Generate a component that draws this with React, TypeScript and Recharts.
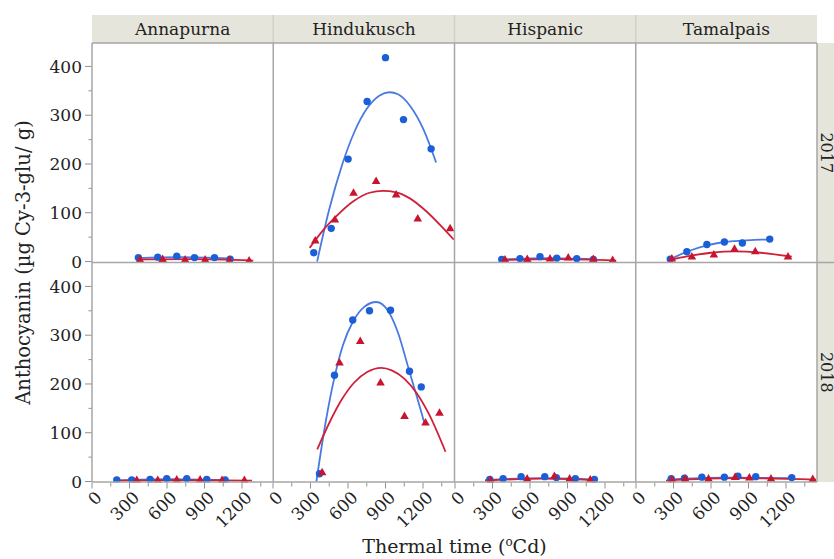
import { ComposedChart, Scatter, Line, XAxis, YAxis } from 'recharts';

const cultivars = ['Annapurna', 'Hindukusch', 'Hispanic', 'Tamalpais'];
const years = ['2017', '2018'];
const xTicks = [0, 150, 300, 450, 600, 750, 900, 1050, 1200, 1350];
const yTicks = [0, 50, 100, 150, 200, 250, 300, 350, 400];

// 2017
const annapurna2017Blue = [{ x: 371, y: 8 }, { x: 526, y: 9 }, { x: 678, y: 11 }, { x: 820, y: 8 }, { x: 980, y: 8 }, { x: 1105, y: 5 }];
const annapurna2017Red = [{ x: 384, y: 4 }, { x: 565, y: 5 }, { x: 745, y: 4 }, { x: 905, y: 4 }, { x: 1100, y: 3 }, { x: 1257, y: 2 }];
const annapurna2017BlueFit = [{ x: 360, y: 7 }, { x: 700, y: 9 }, { x: 1110, y: 6 }];
const annapurna2017RedFit = [{ x: 360, y: 4 }, { x: 800, y: 5 }, { x: 1290, y: 2 }];

const hindukusch2017Blue = [{ x: 326, y: 18 }, { x: 466, y: 68 }, { x: 601, y: 210 }, { x: 753, y: 328 }, { x: 900, y: 418 }, { x: 1044, y: 291 }, { x: 1265, y: 231 }];
const hindukusch2017Red = [{ x: 338, y: 43 }, { x: 495, y: 86 }, { x: 644, y: 141 }, { x: 825, y: 165 }, { x: 985, y: 137 }, { x: 1158, y: 88 }, { x: 1417, y: 68 }];
const hindukusch2017BlueFit = [{ x: 353, y: 0 }, { x: 450, y: 107 }, { x: 550, y: 196 }, { x: 650, y: 265 }, { x: 750, y: 313 }, { x: 850, y: 340 }, { x: 932, y: 347 }, { x: 1000, y: 343 }, { x: 1100, y: 318 }, { x: 1200, y: 273 }, { x: 1305, y: 203 }];
const hindukusch2017RedFit = [{ x: 293, y: 28 }, { x: 400, y: 64 }, { x: 507, y: 93 }, { x: 640, y: 123 }, { x: 773, y: 141 }, { x: 879, y: 145 }, { x: 986, y: 142 }, { x: 1092, y: 130 }, { x: 1226, y: 103 }, { x: 1359, y: 69 }, { x: 1446, y: 45 }];

const hispanic2017Blue = [{ x: 374, y: 4 }, { x: 520, y: 6 }, { x: 680, y: 10 }, { x: 814, y: 7 }, { x: 974, y: 6 }, { x: 1107, y: 4 }];
const hispanic2017Red = [{ x: 400, y: 4 }, { x: 578, y: 5 }, { x: 760, y: 6 }, { x: 906, y: 8 }, { x: 1106, y: 5 }, { x: 1261, y: 3 }];
const hispanic2017BlueFit = [{ x: 370, y: 4 }, { x: 740, y: 7 }, { x: 1110, y: 5 }];
const hispanic2017RedFit = [{ x: 370, y: 3 }, { x: 800, y: 5 }, { x: 1290, y: 2 }];

const tamalpais2017Blue = [{ x: 274, y: 5 }, { x: 407, y: 20 }, { x: 567, y: 35 }, { x: 707, y: 40 }, { x: 851, y: 38 }, { x: 1070, y: 46 }];
const tamalpais2017Red = [{ x: 287, y: 6 }, { x: 447, y: 10 }, { x: 623, y: 14 }, { x: 788, y: 26 }, { x: 954, y: 21 }, { x: 1216, y: 10 }];
const tamalpais2017BlueFit = [{ x: 260, y: 3 }, { x: 407, y: 20 }, { x: 567, y: 33 }, { x: 708, y: 40 }, { x: 851, y: 43 }, { x: 1000, y: 45 }, { x: 1086, y: 45 }];
const tamalpais2017RedFit = [{ x: 260, y: 3 }, { x: 420, y: 11 }, { x: 600, y: 18 }, { x: 793, y: 21 }, { x: 1000, y: 18 }, { x: 1246, y: 10 }];

// 2018
const annapurna2018Blue = [{ x: 198, y: 3 }, { x: 318, y: 3 }, { x: 465, y: 4 }, { x: 598, y: 6 }, { x: 758, y: 6 }, { x: 918, y: 4 }, { x: 1065, y: 3 }];
const annapurna2018Red = [{ x: 358, y: 3 }, { x: 526, y: 3 }, { x: 678, y: 4 }, { x: 865, y: 4 }, { x: 1040, y: 3 }, { x: 1219, y: 3 }];
const annapurna2018BlueFit = [{ x: 190, y: 2 }, { x: 620, y: 5 }, { x: 1070, y: 3 }];
const annapurna2018RedFit = [{ x: 180, y: 2 }, { x: 700, y: 3 }, { x: 1280, y: 2 }];

const hindukusch2018Blue = [{ x: 372, y: 16 }, { x: 492, y: 218 }, { x: 638, y: 331 }, { x: 772, y: 350 }, { x: 940, y: 351 }, { x: 1092, y: 226 }, { x: 1186, y: 194 }];
const hindukusch2018Red = [{ x: 393, y: 19 }, { x: 532, y: 244 }, { x: 698, y: 288 }, { x: 860, y: 203 }, { x: 1052, y: 134 }, { x: 1220, y: 121 }, { x: 1332, y: 141 }];
const hindukusch2018BlueFit = [{ x: 347, y: 0 }, { x: 420, y: 120 }, { x: 493, y: 215 }, { x: 560, y: 280 }, { x: 640, y: 328 }, { x: 730, y: 358 }, { x: 826, y: 368 }, { x: 920, y: 350 }, { x: 1000, y: 305 }, { x: 1092, y: 225 }, { x: 1150, y: 175 }, { x: 1212, y: 119 }];
const hindukusch2018RedFit = [{ x: 354, y: 66 }, { x: 450, y: 120 }, { x: 550, y: 168 }, { x: 650, y: 203 }, { x: 750, y: 224 }, { x: 866, y: 233 }, { x: 950, y: 228 }, { x: 1050, y: 211 }, { x: 1150, y: 181 }, { x: 1250, y: 137 }, { x: 1380, y: 61 }];

const hispanic2018Blue = [{ x: 278, y: 4 }, { x: 385, y: 6 }, { x: 529, y: 10 }, { x: 718, y: 10 }, { x: 811, y: 8 }, { x: 963, y: 6 }, { x: 1115, y: 4 }];
const hispanic2018Red = [{ x: 284, y: 3 }, { x: 577, y: 6 }, { x: 795, y: 11 }, { x: 917, y: 6 }, { x: 1082, y: 4 }];
const hispanic2018BlueFit = [{ x: 240, y: 3 }, { x: 700, y: 7 }, { x: 1120, y: 4 }];
const hispanic2018RedFit = [{ x: 240, y: 2 }, { x: 700, y: 6 }, { x: 1090, y: 3 }];

const tamalpais2018Blue = [{ x: 282, y: 6 }, { x: 388, y: 7 }, { x: 527, y: 9 }, { x: 707, y: 9 }, { x: 815, y: 11 }, { x: 958, y: 10 }, { x: 1246, y: 8 }];
const tamalpais2018Red = [{ x: 287, y: 4 }, { x: 393, y: 6 }, { x: 580, y: 6 }, { x: 793, y: 9 }, { x: 907, y: 8 }, { x: 1080, y: 6 }, { x: 1414, y: 5 }];
const tamalpais2018BlueFit = [{ x: 250, y: 4 }, { x: 700, y: 8 }, { x: 1250, y: 7 }];
const tamalpais2018RedFit = [{ x: 240, y: 2 }, { x: 800, y: 7 }, { x: 1440, y: 4 }];

const panels = [
  [
    { blue: annapurna2017Blue, red: annapurna2017Red, blueFit: annapurna2017BlueFit, redFit: annapurna2017RedFit },
    { blue: hindukusch2017Blue, red: hindukusch2017Red, blueFit: hindukusch2017BlueFit, redFit: hindukusch2017RedFit },
    { blue: hispanic2017Blue, red: hispanic2017Red, blueFit: hispanic2017BlueFit, redFit: hispanic2017RedFit },
    { blue: tamalpais2017Blue, red: tamalpais2017Red, blueFit: tamalpais2017BlueFit, redFit: tamalpais2017RedFit },
  ],
  [
    { blue: annapurna2018Blue, red: annapurna2018Red, blueFit: annapurna2018BlueFit, redFit: annapurna2018RedFit },
    { blue: hindukusch2018Blue, red: hindukusch2018Red, blueFit: hindukusch2018BlueFit, redFit: hindukusch2018RedFit },
    { blue: hispanic2018Blue, red: hispanic2018Red, blueFit: hispanic2018BlueFit, redFit: hispanic2018RedFit },
    { blue: tamalpais2018Blue, red: tamalpais2018Red, blueFit: tamalpais2018BlueFit, redFit: tamalpais2018RedFit },
  ],
];

const FONT = '"DejaVu Serif", serif';
const LEFT = 92;
const TOP = 43;
const PW = 181.25;
const PH = 219.5;
const AXIS_W = 92;
const AXIS_H = 60;
const PAD = 12; // room around each panel so edge labels aren't clipped
const PAD_L = 30;
const GRID = '#a6a6a6';
const STRIP = '#e5e5dc';
const BLUE = '#1a5fd8';
const BLUE_LINE = '#4a7ae0';
const RED = '#c8152f';
const RED_LINE = '#d0213a';
const TEXT = '#222';

function XTick({ x, y, payload }: any) {
  const major = payload.value % 300 === 0;
  return (
    <g>
      <line x1={x} x2={x} y1={y} y2={y + (major ? 6 : 4)} stroke="#909090" strokeWidth={1} />
      {major && (
        <text
          transform={`translate(${x + 11},${y + 16}) rotate(-45)`}
          textAnchor="end"
          fontSize={17}
          fontFamily={FONT}
          fill={TEXT}
        >
          {payload.value}
        </text>
      )}
    </g>
  );
}

function YTick({ x, y, payload }: any) {
  const major = payload.value % 100 === 0;
  return (
    <g>
      <line x1={x - (major ? 7 : 3.5)} x2={x} y1={y} y2={y} stroke="#909090" strokeWidth={1} />
      {major && (
        <text x={x - 10} y={y} dy="0.36em" textAnchor="end" fontSize={17} fontFamily={FONT} fill={TEXT}>
          {payload.value}
        </text>
      )}
    </g>
  );
}

const dot = (p: any) => <circle cx={p.cx} cy={p.cy} r={3.7} fill={BLUE} />;
const tri = (p: any) => (
  <path d={`M${p.cx},${p.cy - 4.6}L${p.cx - 4.3},${p.cy + 2.9}L${p.cx + 4.3},${p.cy + 2.9}Z`} fill={RED} />
);

function Panel({ row, col }: { row: number; col: number }) {
  const d = panels[row][col];
  const padL = col === 0 ? 0 : PAD_L;
  const padB = row === 0 ? PAD : 0;
  const w = PW + (col === 0 ? AXIS_W : PAD_L) + PAD;
  const h = PH + PAD + (row === 1 ? AXIS_H : PAD);
  return (
    <div style={{ position: 'absolute', left: col === 0 ? LEFT - AXIS_W : LEFT + col * PW - PAD_L, top: TOP + row * PH - PAD }}>
      <ComposedChart width={w} height={h} margin={{ top: PAD, right: PAD, bottom: padB, left: padL }}>
        <XAxis
          type="number"
          dataKey="x"
          domain={[0, 1450]}
          ticks={xTicks}
          interval={0}
          hide={row === 0}
          height={AXIS_H}
          tickSize={0}
          tickMargin={0}
          tickLine={false}
          axisLine={false}
          tick={XTick}
          allowDataOverflow
        />
        <YAxis
          type="number"
          dataKey="y"
          domain={[-2, 448]}
          ticks={yTicks}
          interval={0}
          hide={col !== 0}
          width={AXIS_W}
          tickSize={0}
          tickMargin={0}
          tickLine={false}
          axisLine={false}
          tick={YTick}
          allowDataOverflow
        />
        <Line data={d.blueFit} dataKey="y" type="monotone" stroke={BLUE_LINE} strokeWidth={1.8} dot={false} activeDot={false} isAnimationActive={false} />
        <Scatter data={d.blue} dataKey="y" shape={dot} isAnimationActive={false} />
        <Line data={d.redFit} dataKey="y" type="monotone" stroke={RED_LINE} strokeWidth={1.8} dot={false} activeDot={false} isAnimationActive={false} />
        <Scatter data={d.red} dataKey="y" shape={tri} isAnimationActive={false} />
      </ComposedChart>
    </div>
  );
}

export default function App() {
  const right = LEFT + 4 * PW;
  const bottom = TOP + 2 * PH;
  return (
    <div style={{ position: 'absolute', left: 0, top: 0, width: 834, height: 559, background: '#fff', overflow: 'hidden' }}>
      {years.map((_, r) => cultivars.map((c, ci) => <Panel key={c + r} row={r} col={ci} />))}
      <svg width={834} height={559} style={{ position: 'absolute', left: 0, top: 0, pointerEvents: 'none' }}>
        <rect x={LEFT} y={15} width={4 * PW} height={TOP - 15} fill={STRIP} />
        <rect x={right} y={TOP} width={834 - right} height={2 * PH} fill={STRIP} />
        {cultivars.map((c, i) => (
          <g key={c}>
            {i > 0 && <line x1={LEFT + i * PW} x2={LEFT + i * PW} y1={15} y2={TOP} stroke="#d2d2ca" strokeWidth={1.5} />}
            <text x={LEFT + (i + 0.5) * PW} y={35} textAnchor="middle" fontSize={17} fontFamily={FONT} fill={TEXT}>
              {c}
            </text>
          </g>
        ))}
        {years.map((y, i) => (
          <text
            key={y}
            transform={`translate(${right + 3.5},${TOP + (i + 0.5) * PH}) rotate(90)`}
            textAnchor="middle"
            fontSize={16}
            fontFamily={FONT}
            fill={TEXT}
          >
            {y}
          </text>
        ))}
        {[0, 1, 2, 3, 4].map((i) => (
          <line key={i} x1={LEFT + i * PW} x2={LEFT + i * PW} y1={TOP} y2={bottom} stroke={GRID} strokeWidth={1.5} />
        ))}
        <line x1={LEFT} x2={right} y1={TOP} y2={TOP} stroke={GRID} strokeWidth={1.5} />
        <line x1={LEFT} x2={834} y1={TOP + PH} y2={TOP + PH} stroke={GRID} strokeWidth={1.5} />
        <line x1={LEFT} x2={right} y1={bottom} y2={bottom} stroke={GRID} strokeWidth={1.5} />
        <text transform={`translate(30,${TOP + PH}) rotate(-90)`} textAnchor="middle" fontSize={19.5} fontFamily={FONT} fill={TEXT}>
          Anthocyanin (µg Cy-3-glu/ g)
        </text>
        <text x={LEFT + 2 * PW} y={553} textAnchor="middle" fontSize={19} fontFamily={FONT} fill={TEXT}>
          Thermal time (<tspan fontSize={12} dy={-7}>o</tspan>
          <tspan dy={7}>Cd)</tspan>
        </text>
      </svg>
    </div>
  );
}
